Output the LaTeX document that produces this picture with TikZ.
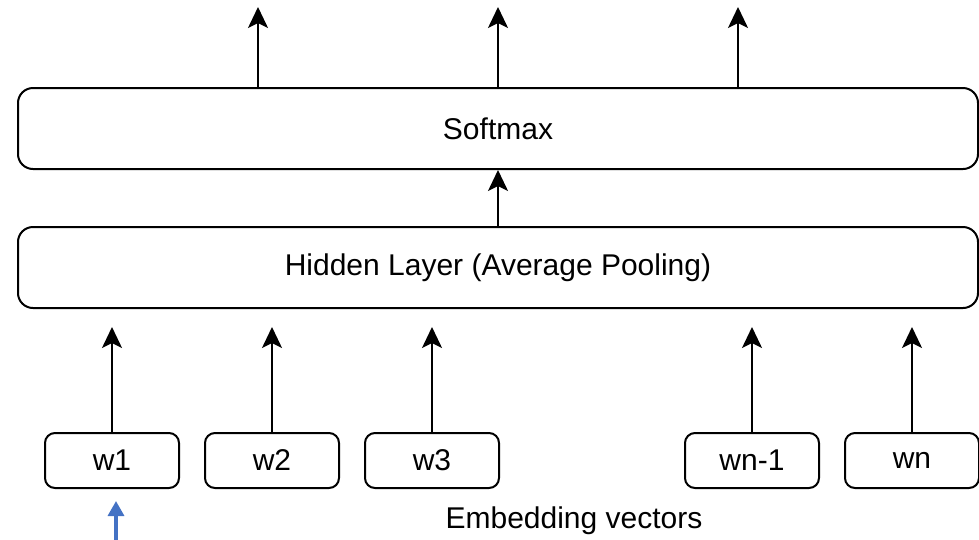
\documentclass[tikz,border=0pt]{standalone}
\usepackage{fontspec}
\setmainfont{Liberation Sans}
\usetikzlibrary{arrows.meta}
\definecolor{bluearr}{RGB}{68,114,196}
\begin{document}
\begin{tikzpicture}[x=1pt,y=-1pt,
  layerbox/.style={draw=black,line width=2pt,rounded corners=15pt,minimum width=960pt,minimum height=81pt,inner sep=0pt,font=\fontsize{30}{36}\selectfont},
  wordbox/.style={draw=black,line width=2pt,rounded corners=10pt,minimum width=134pt,minimum height=55pt,inner sep=0pt,font=\fontsize{30}{36}\selectfont},
  uparr/.style={line width=2pt,-{Stealth[length=21pt,width=20pt,inset=5pt]}},
  bluearrow/.style={draw=bluearr,line width=3.3pt,-{Triangle[length=15pt,width=16pt]}},
  lbl/.style={font=\fontsize{30}{36}\selectfont,inner sep=0pt}]
\useasboundingbox (0,0) rectangle (979,539);
\node[layerbox] (soft) at (498,128.5) {Softmax};
\node[layerbox] (hid) at (498,267.5) {Hidden Layer (Average Pooling)};
\node[wordbox] (w1) at (112,460.5) {w1};
\node[wordbox] (w2) at (272,460.5) {w2};
\node[wordbox] (w3) at (432,460.5) {w3};
\node[wordbox] (wn1) at (752,460.5) {wn-1};
\node[wordbox] (wn) at (912,460.5) {wn};
\node[lbl] (emb) at (574,521) {Embedding vectors};
% top outputs
\coordinate (o1) at (258,7);
\coordinate (o2) at (498,7);
\coordinate (o3) at (738,7);
\draw[uparr] (soft.north -| o1) -- (o1);
\draw[uparr] (soft.north -| o2) -- (o2);
\draw[uparr] (soft.north -| o3) -- (o3);
\draw[uparr] (hid.north) -- (soft.south);
% word arrows
\draw[uparr] (w1.north) -- ++(0,-105) coordinate (tw1);
\draw[uparr] (w2.north) -- ++(0,-105) coordinate (tw2);
\draw[uparr] (w3.north) -- ++(0,-105) coordinate (tw3);
\draw[uparr] (wn1.north) -- ++(0,-105) coordinate (twn1);
\draw[uparr] (wn.north) -- ++(0,-105) coordinate (twn);
% blue arrow
\coordinate (bstart) at (116,541);
\coordinate (bend) at (116,501);
\draw[bluearrow] (bstart) -- (bend);
\end{tikzpicture}
\end{document}
